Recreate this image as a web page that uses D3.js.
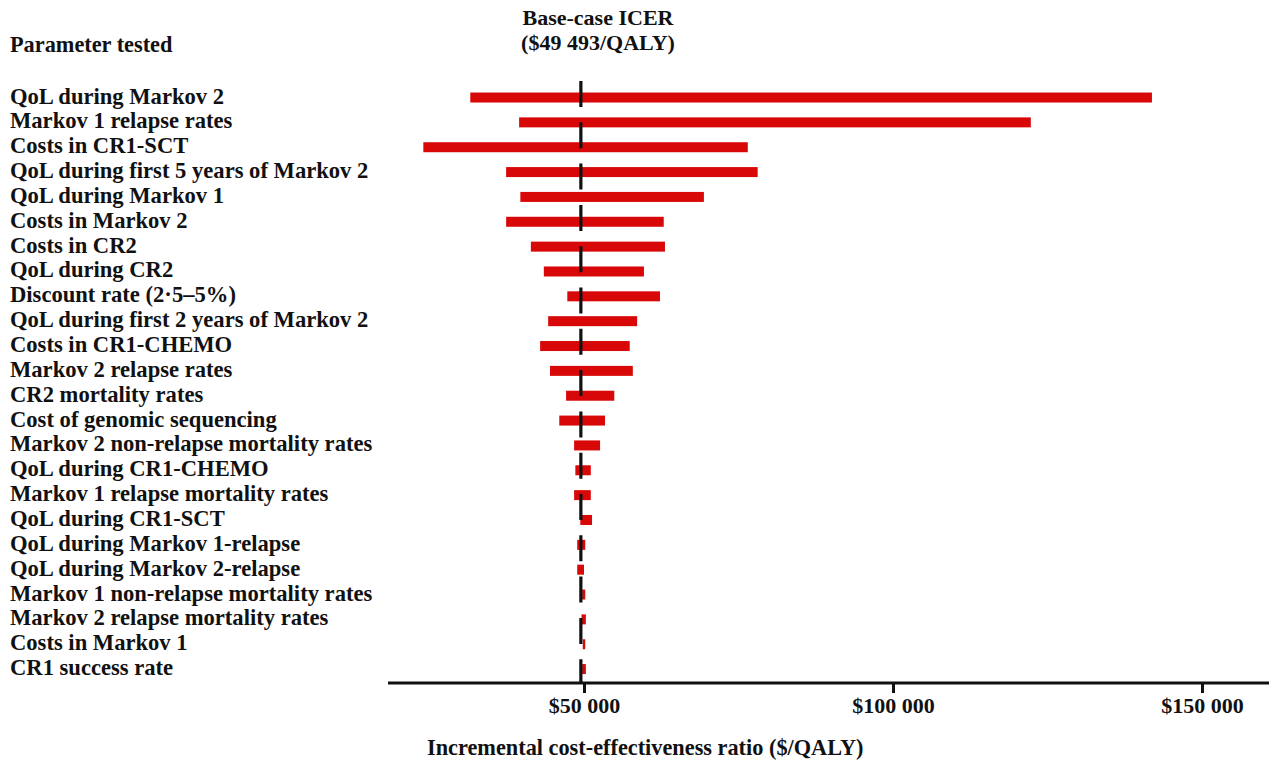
<!DOCTYPE html>
<html>
<head>
<meta charset="utf-8">
<script src="https://cdn.jsdelivr.net/npm/d3@7"></script>
<style>
  body { margin: 0; background: #fff; }
  text { font-family: "Liberation Serif", "Times New Roman", serif; font-weight: bold; fill: #111; }
</style>
</head>
<body>
<svg id="chart"></svg>
<script>
// chart size
const width = 1269;
const height = 762;

// parameters, top to bottom
const params = [
  "QoL during Markov 2",
  "Markov 1 relapse rates",
  "Costs in CR1-SCT",
  "QoL during first 5 years of Markov 2",
  "QoL during Markov 1",
  "Costs in Markov 2",
  "Costs in CR2",
  "QoL during CR2",
  "Discount rate (2\u00b75\u20135%)",
  "QoL during first 2 years of Markov 2",
  "Costs in CR1-CHEMO",
  "Markov 2 relapse rates",
  "CR2 mortality rates",
  "Cost of genomic sequencing",
  "Markov 2 non-relapse mortality rates",
  "QoL during CR1-CHEMO",
  "Markov 1 relapse mortality rates",
  "QoL during CR1-SCT",
  "QoL during Markov 1-relapse",
  "QoL during Markov 2-relapse",
  "Markov 1 non-relapse mortality rates",
  "Markov 2 relapse mortality rates",
  "Costs in Markov 1",
  "CR1 success rate"
];

// low and high ICER ($/QALY) for each parameter
const lowICER = [31600, 39500, 24000, 37400, 39700, 37400, 41400, 43500, 47300, 44200, 42900, 44500,
  47100, 46000, 48400, 48600, 48400, 49400, 48900, 48900, 49700, 49600, 49800, 49700];
const highICER = [141900, 122300, 76500, 78100, 69400, 62900, 63100, 59700, 62300, 58600, 57400, 57900,
  54900, 53400, 52600, 51100, 51100, 51300, 50200, 50000, 50200, 50300, 50200, 50300];

const baseICER = 49493;
const tickValues = [50000, 100000, 150000];

const svg = d3.select("#chart")
  .attr("width", width)
  .attr("height", height);

// scales
const x = d3.scaleLinear()
  .domain([18285, 160840])
  .range([388, 1269]);

const y = d3.scaleBand()
  .domain(params)
  .range([85.1, 681.5])
  .paddingInner(0.6)
  .paddingOuter(0.3);

const data = params.map((p, i) => ({ name: p, lo: lowICER[i], hi: highICER[i] }));

// bars
svg.append("g")
  .attr("class", "bars")
  .selectAll("rect")
  .data(data)
  .enter()
  .append("rect")
  .attr("x", d => x(d.lo))
  .attr("y", d => y(d.name) + y.bandwidth() / 2 - 5)
  .attr("width", d => Math.max(1.5, x(d.hi) - x(d.lo)))
  .attr("height", 10)
  .attr("fill", "#d90808");

// base case dashed line
svg.append("line")
  .attr("x1", x(baseICER))
  .attr("x2", x(baseICER))
  .attr("y1", 81)
  .attr("y2", 683)
  .attr("stroke", "#111")
  .attr("stroke-width", 3.2)
  .attr("stroke-dasharray", "26 15.3");

// parameter labels
svg.append("g")
  .selectAll("text")
  .data(params)
  .enter()
  .append("text")
  .attr("x", 10)
  .attr("y", d => y(d) + y.bandwidth() / 2 + 6)
  .style("font-size", "22.6px")
  .text(d => d);

// x axis
const axis = svg.append("g")
  .attr("transform", "translate(0,683)")
  .call(d3.axisBottom(x)
    .tickValues(tickValues)
    .tickSize(10)
    .tickPadding(4)
    .tickFormat(d => "$" + d3.format(",")(d).replace(/,/g, " ")));

axis.select(".domain")
  .attr("d", "M388,0H1269")
  .attr("stroke", "#111")
  .attr("stroke-width", 3);
axis.selectAll(".tick line").attr("stroke", "#111").attr("stroke-width", 3).attr("y1", 0);
axis.selectAll(".tick text")
  .style("font-family", "'Liberation Serif', serif")
  .style("font-weight", "bold")
  .style("font-size", "22px")
  .attr("fill", "#111");

// titles
svg.append("text")
  .attr("x", 427)
  .attr("y", 755)
  .style("font-size", "22.3px")
  .text("Incremental cost-effectiveness ratio ($/QALY)");

svg.append("text")
  .attr("x", 10)
  .attr("y", 52)
  .style("font-size", "22.3px")
  .text("Parameter tested");

svg.append("text")
  .attr("x", 598)
  .attr("y", 25)
  .attr("text-anchor", "middle")
  .style("font-size", "22px")
  .text("Base-case ICER");

svg.append("text")
  .attr("x", 598)
  .attr("y", 50)
  .attr("text-anchor", "middle")
  .style("font-size", "22px")
  .text("($49 493/QALY)");
</script>
</body>
</html>
